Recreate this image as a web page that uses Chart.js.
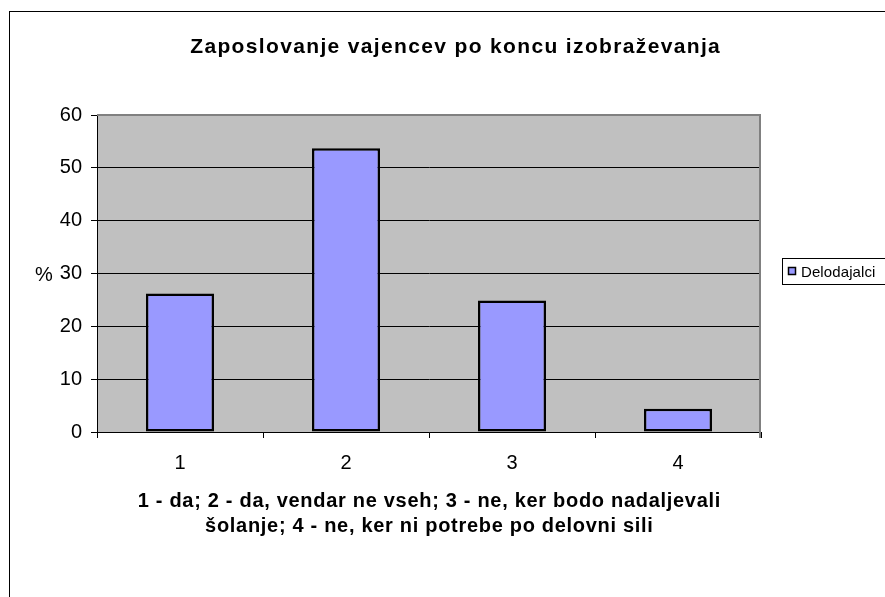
<!DOCTYPE html>
<html>
<head>
<meta charset="utf-8">
<script src="https://cdn.jsdelivr.net/npm/chart.js@4"></script>
<style>
  body { margin: 0; background: #fff; }
  #wrap { width: 885px; height: 597px; }
</style>
</head>
<body>
<div id="wrap"><canvas id="chart" width="885" height="597"></canvas></div>
<script>
// data
const categories = ['1', '2', '3', '4'];
const seriesName = 'Delodajalci';
const employerValues = [26.2, 53.7, 24.9, 4.4];
const yTicks = [0, 10, 20, 30, 40, 50, 60];

const chartTitle = 'Zaposlovanje vajencev po koncu izobraževanja';
const xTitleLines = [
    '1 - da; 2 - da, vendar ne vseh; 3 - ne, ker bodo nadaljevali',
    'šolanje; 4 - ne, ker ni potrebe po delovni sili'
];
const yTitle = '%';

const FONT = "'Liberation Sans', Arial, sans-serif";
const BAR_COLOR = '#9999FF';

function spacedText(ctx, text, x, y, font, spacing, align) {
    ctx.save();
    ctx.font = font;
    ctx.letterSpacing = spacing + 'px';
    ctx.fillStyle = '#000';
    ctx.textBaseline = 'alphabetic';
    let w = ctx.measureText(text).width - spacing;
    let sx = align === 'center' ? x - w / 2 : x;
    ctx.textAlign = 'left';
    ctx.fillText(text, sx, y);
    ctx.restore();
}

// plot background, frame, title, legend - Excel style
const excelDecor = {
    id: 'excelDecor',
    beforeDraw(chart) {
        const { ctx, chartArea: a } = chart;
        ctx.save();
        ctx.fillStyle = '#C0C0C0';
        ctx.fillRect(a.left, a.top, a.right - a.left, a.bottom - a.top);
        ctx.restore();
    },
    afterDatasetsDraw(chart) {
        const { ctx, chartArea: a } = chart;
        ctx.save();
        ctx.strokeStyle = '#808080';
        ctx.lineWidth = 2;
        ctx.beginPath();
        ctx.moveTo(a.left, a.top);
        ctx.lineTo(a.right - 1, a.top);
        ctx.lineTo(a.right - 1, a.bottom + 6);
        ctx.stroke();
        ctx.restore();
    },
    afterDraw(chart) {
        const { ctx, chartArea: a } = chart;
        // outer chart frame (runs off the right and bottom edge)
        ctx.save();
        ctx.strokeStyle = '#000';
        ctx.lineWidth = 1;
        ctx.strokeRect(9.5, 11.5, 1000, 1000);
        ctx.restore();

        spacedText(ctx, chartTitle, 455, 53, 'bold 21px ' + FONT, 1.35, 'center');
        spacedText(ctx, yTitle, 35, 281, '20px ' + FONT, 0, 'left');
        const cx = (a.left + a.right) / 2;
        spacedText(ctx, xTitleLines[0], cx, 507, 'bold 20px ' + FONT, 0.7, 'center');
        spacedText(ctx, xTitleLines[1], cx, 532, 'bold 20px ' + FONT, 0.7, 'center');

        // legend box
        ctx.save();
        ctx.fillStyle = '#fff';
        ctx.strokeStyle = '#000';
        ctx.lineWidth = 1;
        ctx.fillRect(782.5, 258.5, 120, 26);
        ctx.strokeRect(782.5, 258.5, 120, 26);
        ctx.fillStyle = BAR_COLOR;
        ctx.fillRect(788, 267, 8, 8);
        ctx.lineWidth = 1.5;
        ctx.strokeRect(788.5, 267.5, 7, 7);
        ctx.restore();
        spacedText(ctx, seriesName, 801, 277, '15px ' + FONT, 0.1, 'left');
    }
};

new Chart(document.getElementById('chart'), {
    type: 'bar',
    data: {
        labels: categories,
        datasets: [{
            label: seriesName,
            data: employerValues,
            backgroundColor: BAR_COLOR,
            borderColor: '#000',
            borderWidth: 2.5,
            borderSkipped: false,
            barPercentage: 0.41,
            categoryPercentage: 1
        }]
    },
    options: {
        responsive: false,
        animation: false,
        events: [],
        layout: { padding: { left: 10, top: 115, right: 124, bottom: 125 } },
        plugins: {
            legend: { display: false },
            title: { display: false },
            tooltip: { enabled: false }
        },
        scales: {
            x: {
                grid: { offset: true, drawOnChartArea: false, color: '#000', tickLength: 6 },
                border: { color: '#000', width: 1 },
                ticks: { color: '#000', padding: 13, font: { family: FONT, size: 20 } },
                afterFit(scale) { scale.height = 40; }
            },
            y: {
                min: 0,
                max: 60,
                afterBuildTicks(scale) { scale.ticks = yTicks.map(v => ({ value: v })); },
                grid: { color: '#000', tickLength: 6 },
                border: { color: '#000', width: 1 },
                ticks: { color: '#000', padding: 9, font: { family: FONT, size: 20 } },
                afterFit(scale) { scale.width = 87; }
            }
        }
    },
    plugins: [excelDecor]
});
</script>
</body>
</html>
